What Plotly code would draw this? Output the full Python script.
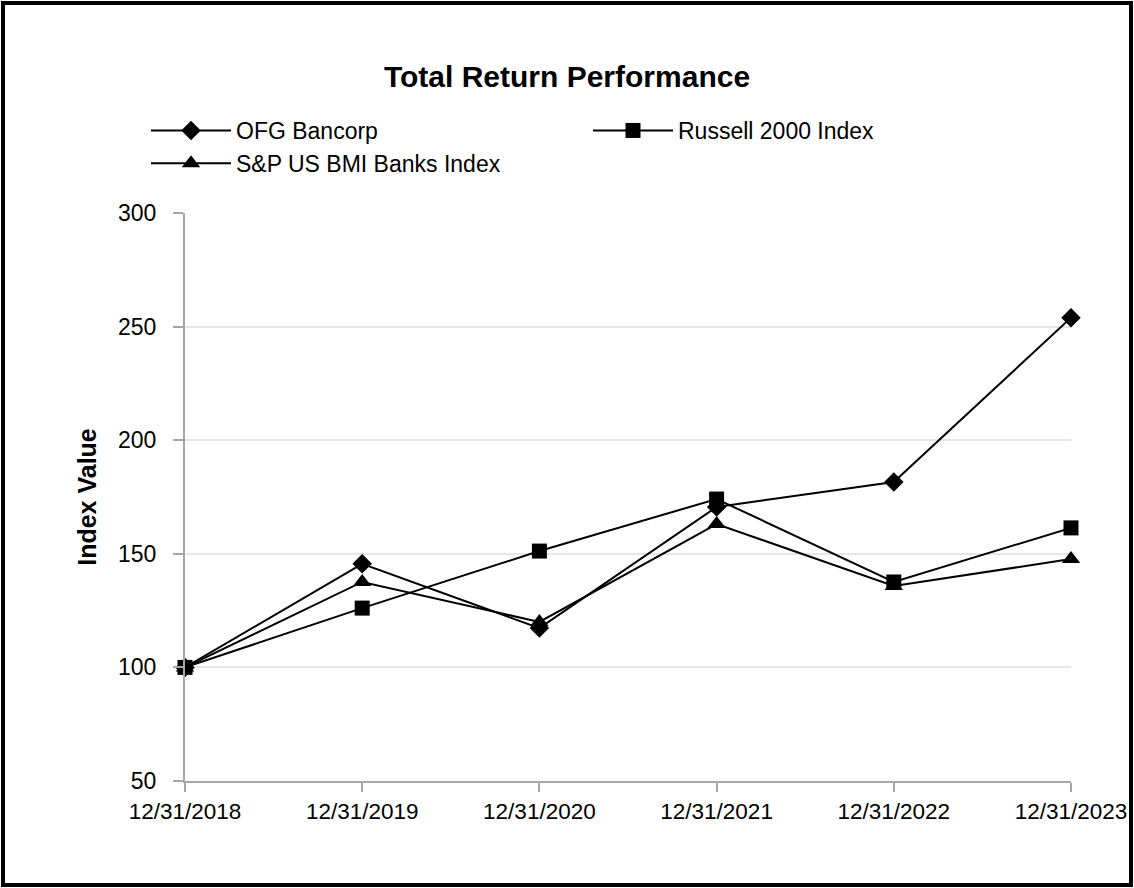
import plotly.graph_objects as go

dates = ["12/31/2018", "12/31/2019", "12/31/2020", "12/31/2021", "12/31/2022", "12/31/2023"]
ofg = [100, 145.6, 117.3, 170.6, 181.6, 253.9]
russell = [100, 126.1, 151.2, 174.1, 137.6, 161.4]
banks = [100, 137.6, 120.0, 163.1, 135.8, 147.7]
y_ticks = [50, 100, 150, 200, 250, 300]

W, H = 1134, 888
ML, MR, MT, MB = 185, 63, 213, 107
PW, PH = W - ML - MR, H - MT - MB

FONT = "Arial, Liberation Sans, sans-serif"

fig = go.Figure()
series = [
    ("OFG Bancorp", ofg, "diamond", 15),
    ("Russell 2000 Index", russell, "square", 15),
    ("S&P US BMI Banks Index", banks, "triangle-up", 16),
]
for name, vals, sym, sz in series:
    fig.add_trace(go.Scatter(
        x=dates, y=vals, name=name, mode="lines+markers",
        line=dict(color="black", width=2),
        marker=dict(symbol=sym, size=sz, color="black"),
        cliponaxis=False,
    ))

def px_x(p):
    return (p - ML) / PW

def px_y(p):
    return (H - MB - p) / PH

fig.add_shape(type="rect", xref="paper", yref="paper",
              x0=px_x(3), x1=px_x(1131), y0=px_y(885), y1=px_y(3),
              line=dict(color="black", width=4), fillcolor="rgba(0,0,0,0)", layer="above")

fig.update_layout(
    width=W, height=H,
    margin=dict(l=ML, r=MR, t=MT, b=MB, autoexpand=False),
    paper_bgcolor="white", plot_bgcolor="white",
    font=dict(family=FONT, color="black", size=22),
    title=dict(text="<b>Total Return Performance</b>", x=0.5, xref="container", xanchor="center",
               y=1 - 76 / H, yref="container", yanchor="middle",
               font=dict(size=30, family=FONT, color="black")),
    legend=dict(orientation="h", x=px_x(146), xanchor="left", y=px_y(109), yanchor="top",
                entrywidth=347, entrywidthmode="pixels", font=dict(size=23, family=FONT),
                bgcolor="rgba(0,0,0,0)", tracegroupgap=0, itemwidth=80),
    showlegend=True,
)
fig.update_xaxes(type="category", range=[0, 5], showgrid=False, zeroline=False,
                 showline=True, linecolor="#a6a6a6", linewidth=2,
                 ticks="outside", ticklen=9, tickwidth=2, tickcolor="#a6a6a6",
                 tickfont=dict(size=22.5, family=FONT), automargin=False)
fig.update_yaxes(range=[50, 300], tickvals=y_ticks, showgrid=True, gridcolor="#e6e6e6", gridwidth=1.5,
                 zeroline=False, showline=True, linecolor="#a6a6a6", linewidth=2,
                 ticks="outside", ticklen=10, tickwidth=2, tickcolor="#a6a6a6",
                 ticklabelstandoff=12,
                 tickfont=dict(size=23, family=FONT), automargin=False,
                 title=dict(text="<b>Index Value</b>", font=dict(size=25, family=FONT), standoff=14))

fig.write_html("out.html", config={"displayModeBar": False},
               post_script="document.body.style.margin='0';")
